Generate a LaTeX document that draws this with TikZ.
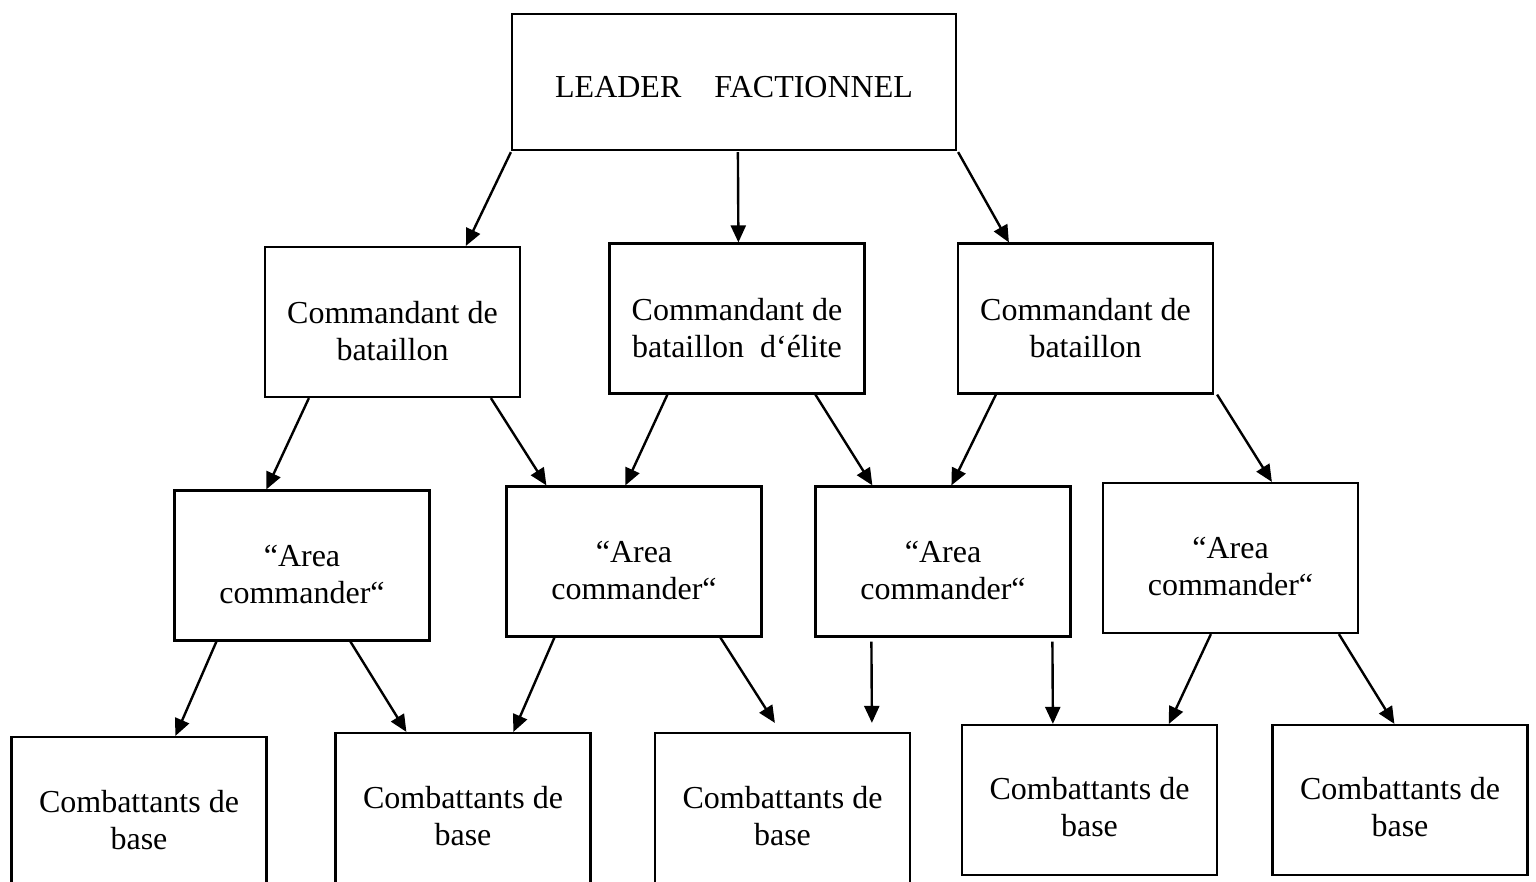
\documentclass[tikz,border=0pt]{standalone}
\usepackage{fontspec}
\setmainfont{Liberation Serif}
\usetikzlibrary{calc,arrows.meta}
\begin{document}
\begin{tikzpicture}[x=0.5pt,y=-0.5pt,
  box/.style={draw,line width=1.1pt,inner sep=0pt,minimum width=127.5pt,minimum height=75pt},
  txt/.style={align=center,inner sep=0pt,anchor=base,font=\fontsize{16pt}{18.5pt}\selectfont},
  arr/.style={line width=1.2pt,-{Triangle[length=8.5pt,width=7.5pt]}}]
\clip (0,0) rectangle (1536,882);
\fill[white] (0,0) rectangle (1536,882);
% boxes
\node[box,minimum width=222pt,minimum height=68pt] (top) at (734,82) {};
\node[box] (A) at (392.5,322) {};
\node[box] (B) at (737,318.5) {};
\node[box] (C) at (1085.5,318.5) {};
\node[box] (D) at (302,565.5) {};
\node[box] (E) at (634,561.5) {};
\node[box] (F) at (943,561.5) {};
\node[box] (G) at (1230.5,558) {};
\node[box] (H) at (139,812) {};
\node[box] (I) at (463,808) {};
\node[box] (J) at (782.5,808) {};
\node[box] (K) at (1089.5,800) {};
\node[box] (L) at (1400,800) {};
% texts (base anchor = baseline of the last line)
\node[txt] (topt) at ($(top.north)+(0,85)$) {LEADER\hspace{16.5pt}FACTIONNEL};
\node[txt] (At) at ($(A.north)+(0,115)$) {Commandant de\\bataillon};
\node[txt] (Bt) at ($(B.north)+(0,115)$) {Commandant de\\bataillon\ \ d‘élite};
\node[txt] (Ct) at ($(C.north)+(0,115)$) {Commandant de\\bataillon};
\node[txt] (Dt) at ($(D.north)+(0,114)$) {“Area\\commander“};
\node[txt] (Et) at ($(E.north)+(0,114)$) {“Area\\commander“};
\node[txt] (Ft) at ($(F.north)+(0,114)$) {“Area\\commander“};
\node[txt] (Gt) at ($(G.north)+(0,114)$) {“Area\\commander“};
\node[txt] (Ht) at ($(H.north)+(0,114)$) {Combattants de\\base};
\node[txt] (It) at ($(I.north)+(0,114)$) {Combattants de\\base};
\node[txt] (Jt) at ($(J.north)+(0,114)$) {Combattants de\\base};
\node[txt] (Kt) at ($(K.north)+(0,113)$) {Combattants de\\base};
\node[txt] (Lt) at ($(L.north)+(0,113)$) {Combattants de\\base};
% arrows
\draw[arr] ($(top.south west)+(0,1)$) -- ($(A.north west)+(202,0)$);
\draw[arr] ($(top.south west)+(227,1)$) -- ($(B.north west)+(130,0)$);
\draw[arr] ($(top.south east)+(1,1)$) -- ($(C.north west)+(52,0)$);
\draw[arr] ($(A.south west)+(45,0)$) -- ($(D.north west)+(93,0)$);
\draw[arr] ($(A.south west)+(227,0)$) -- ($(E.north west)+(41,0)$);
\draw[arr] ($(B.south west)+(59,0)$) -- ($(E.north west)+(120,0)$);
\draw[arr] ($(B.south west)+(207,0)$) -- ($(F.north west)+(58,0)$);
\draw[arr] ($(C.south west)+(39,0)$) -- ($(F.north west)+(137,0)$);
\draw[arr] ($(C.south east)+(3,0)$) -- ($(G.north west)+(170,0)$);
\draw[arr] ($(D.south west)+(43,0)$) -- ($(H.north west)+(165,0)$);
\draw[arr] ($(D.south west)+(177,0)$) -- ($(I.north west)+(72,0)$);
\draw[arr] ($(E.south west)+(49,0)$) -- ($(I.north west)+(179,0)$);
\draw[arr] ($(E.south west)+(215,0)$) -- ($(J.north west)+(121,-9)$);
\draw[arr] ($(F.south west)+(57,4)$) -- ($(J.north west)+(218,-9)$);
\draw[arr] ($(F.south west)+(238,4)$) -- ($(K.north west)+(92,0)$);
\draw[arr] ($(G.south west)+(109,0)$) -- ($(K.north west)+(208,0)$);
\draw[arr] ($(G.south west)+(237,0)$) -- ($(L.north west)+(123,0)$);
\end{tikzpicture}
\end{document}
